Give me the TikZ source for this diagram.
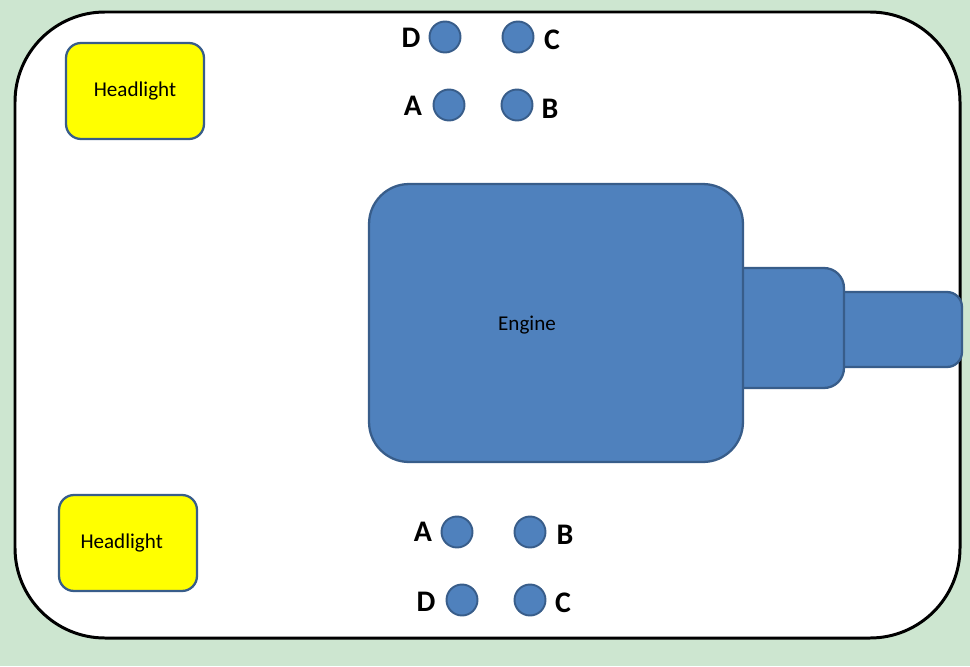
\documentclass[tikz,border=0pt]{standalone}
\usepackage{fontspec}
\setmainfont{Carlito}
\usetikzlibrary{positioning}
\definecolor{fondo}{HTML}{CDE6D0}
\definecolor{azul}{HTML}{4F81BD}
\definecolor{azulborde}{HTML}{385D8A}
\definecolor{amarillo}{HTML}{FFFF00}

\begin{document}
\begin{tikzpicture}[x=0.02cm,y=-0.02cm]
\tikzstyle{caja faro}=[draw=azulborde,line width=1.3pt,fill=amarillo,rounded corners=0.3cm,minimum width=2.76cm,minimum height=1.92cm,font=\fontsize{12}{14}\selectfont]
\tikzstyle{pieza motor}=[draw=azulborde,line width=1.3pt,fill=azul]
\tikzstyle{contacto}=[circle,draw=azulborde,line width=1.1pt,fill=azul,minimum size=0.62cm,inner sep=0pt]
\tikzstyle{letra}=[font=\fontsize{17}{20}\selectfont\bfseries,inner sep=0pt]

\fill[fondo] (0,0) rectangle (970,666);
\useasboundingbox (0,0) rectangle (970,666);
\draw[line width=1.7pt,fill=white,rounded corners=1.8cm] (15,12) rectangle (960,638);

%\node[pieza motor] at (891,330) {};
\node[pieza motor,rounded corners=0.3cm,minimum width=2.84cm,minimum height=1.5cm] (eje) at (891,329.5) {};
\node[pieza motor,rounded corners=0.4cm,minimum width=2.48cm,minimum height=2.4cm] (caja) at (782,328) {};
\node[pieza motor,rounded corners=0.8cm,minimum width=7.48cm,minimum height=5.56cm] (motor) at (556,323) {};
\node[font=\fontsize{12}{14}\selectfont] (textomotor) at (527,325) {Engine};

\node[caja faro] (faro1) at (135,91) {Headlight};
\node[caja faro,text width=1.9cm] (faro2) at (128,543) {Headlight};

\node[contacto] (d1) at (445,37) {};
\node[contacto] (c1) at (518,37) {};
\node[contacto] (a1) at (449,105) {};
\node[contacto] (b1) at (517,105) {};
\node[contacto] (a2) at (457,532) {};
\node[contacto] (b2) at (530,532) {};
\node[contacto] (d2) at (462,600) {};
\node[contacto] (c2) at (530,600) {};

\node[letra] (ld1) at (411,38) {D};
\node[letra] (lc1) at (552,40) {C};
\node[letra] (la1) at (413,106) {A};
\node[letra] (lb1) at (550,109) {B};
\node[letra] (la2) at (423,532) {A};
\node[letra] (lb2) at (565,535) {B};
\node[letra] (ld2) at (426,602) {D};
\node[letra] (lc2) at (563,603) {C};
\end{tikzpicture}
\end{document}
